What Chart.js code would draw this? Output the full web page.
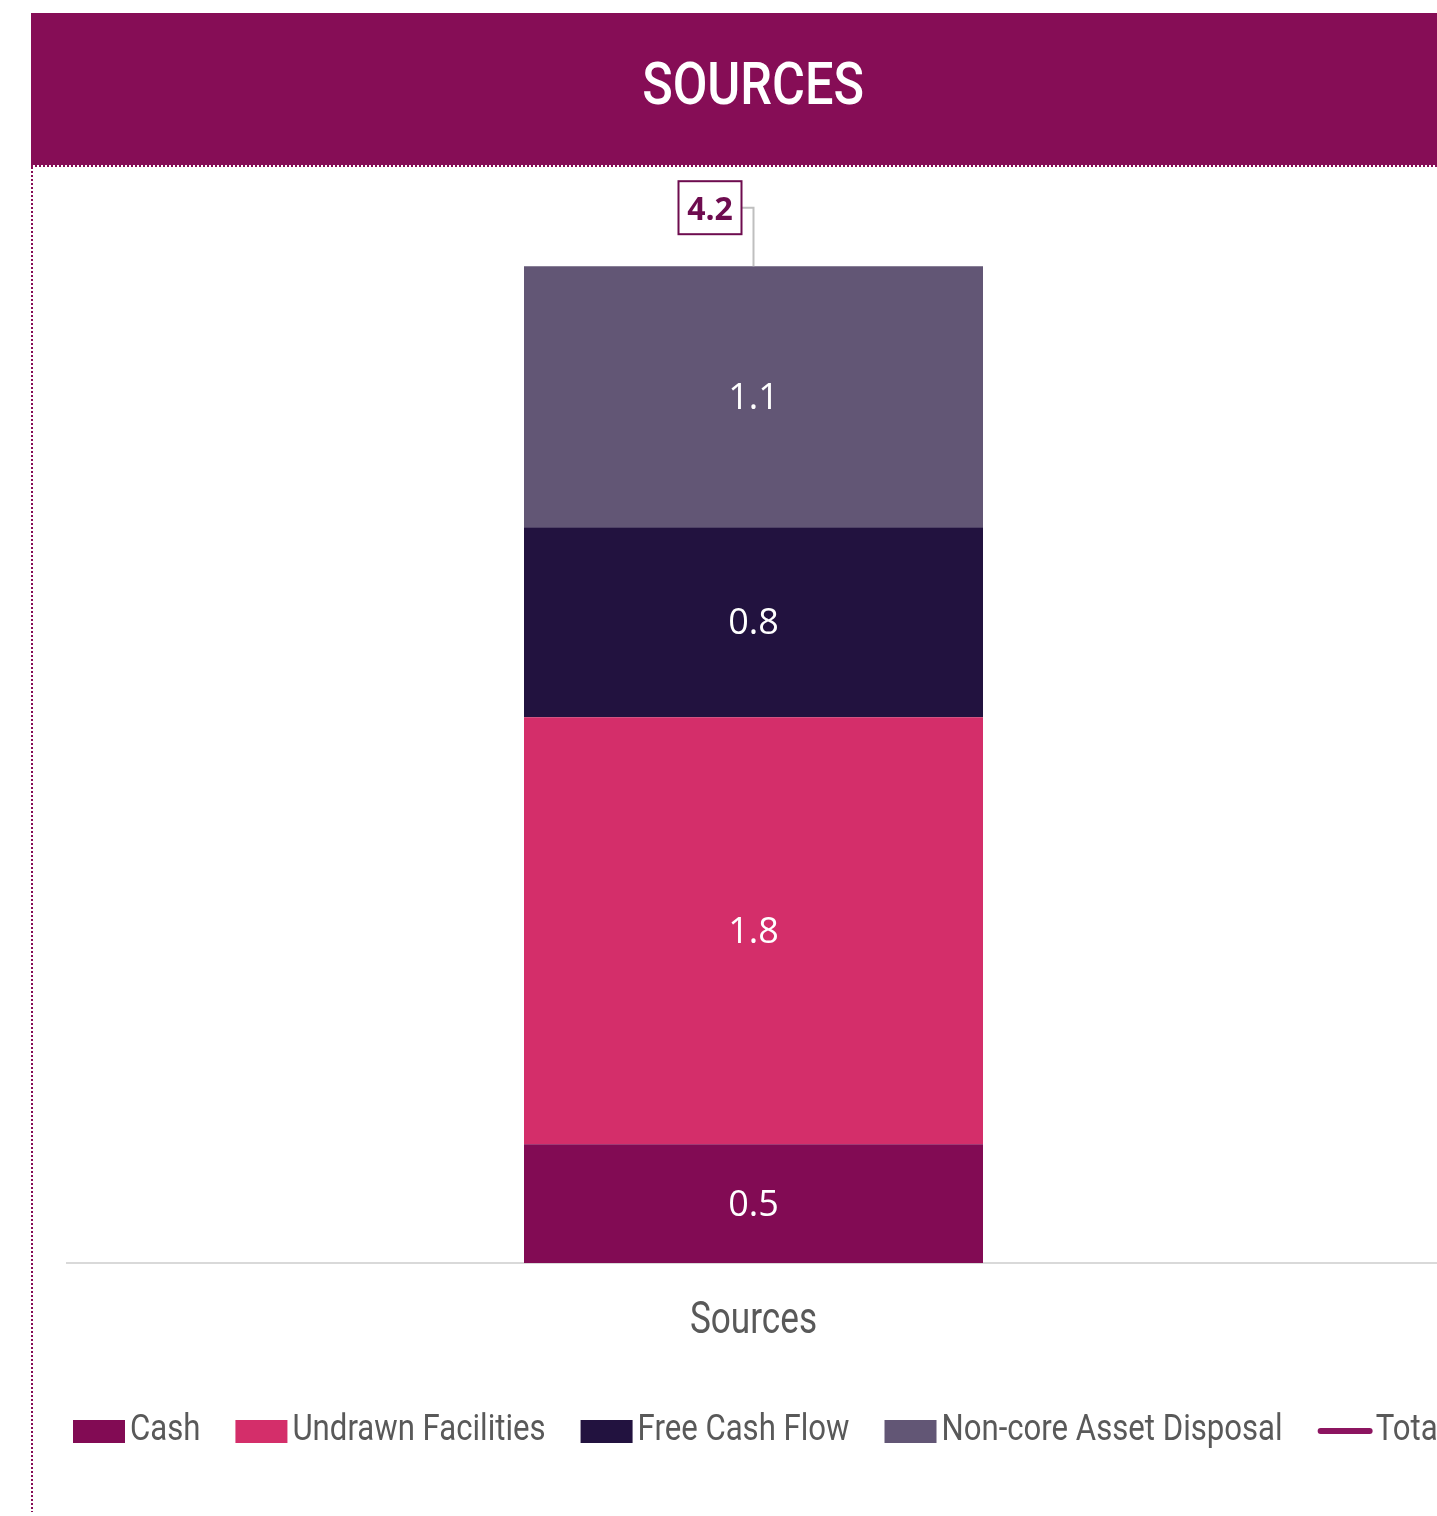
<!DOCTYPE html>
<html>
<head>
<meta charset="utf-8">
<script src="https://cdn.jsdelivr.net/npm/chart.js@4.4.1/dist/chart.umd.min.js"></script>
<style>
  html, body { margin: 0; padding: 0; background: #fff; overflow: hidden; }
  body { width: 1437px; height: 1516px; position: relative; }
  .header {
    position: absolute; left: 31px; top: 13px; width: 1444px; height: 152px;
    background: #860D56;
    color: #fff; text-align: center;
    font-family: Roboto, "Open Sans", sans-serif;
    font-weight: 500; font-size: 60px; line-height: 142px;
  }
  .header span { display: inline-block; transform: scaleX(0.84); }
  .dots-h {
    position: absolute; left: 31px; top: 165px; width: 1444px; height: 2px;
    background: repeating-linear-gradient(to right, #860D56 0 2px, transparent 2px 4px);
  }
  .dots-v {
    position: absolute; left: 31px; top: 167px; width: 2px; height: 1345px;
    background: repeating-linear-gradient(to bottom, #860D56 0 2px, transparent 2px 4px);
  }
  #chart { position: absolute; left: 31px; top: 166px; }
</style>
</head>
<body>
<div class="header"><span>SOURCES</span></div>
<canvas id="chart" width="1500" height="1350"></canvas>
<div class="dots-h"></div>
<div class="dots-v"></div>
<script>
// chart data
var categories = ["Sources"];
var cash = [0.5];
var undrawn = [1.8];
var freeCashFlow = [0.8];
var nonCore = [1.1];
var total = [4.2];

var FONT = 'Roboto, "Open Sans", sans-serif';
var LABEL_FONT = '"Open Sans", "Liberation Sans", sans-serif';
var SQUEEZE = 0.865; // the original uses a narrow typeface

function narrowText(ctx, text, x, y, sx) {
  ctx.save();
  ctx.translate(x, y);
  ctx.scale(sx, 1);
  ctx.fillText(text, 0, 0);
  ctx.restore();
  return ctx.measureText(text).width * sx;
}

// white value labels in each segment + boxed total with leader line
var valueLabels = {
  id: "valueLabels",
  afterDatasetsDraw: function (chart) {
    var ctx = chart.ctx;
    ctx.save();
    chart.data.datasets.forEach(function (ds, i) {
      var meta = chart.getDatasetMeta(i);
      if (meta.type !== "bar") return;
      meta.data.forEach(function (bar, j) {
        ctx.fillStyle = "#ffffff";
        ctx.font = "36px " + LABEL_FONT;
        ctx.textAlign = "center";
        ctx.textBaseline = "middle";
        ctx.fillText(ds.data[j].toFixed(1), bar.x, (bar.y + bar.base) / 2 + 2);
      });
    });

    // total callout
    var tMeta = chart.getDatasetMeta(4);
    tMeta.data.forEach(function (pt, j) {
      var bx = pt.x - 75, by = pt.y - 85, bw = 63, bh = 53;
      ctx.strokeStyle = "#BFBFBF";
      ctx.lineWidth = 2;
      ctx.beginPath();
      ctx.moveTo(bx + bw, by + bh / 2);
      ctx.lineTo(pt.x, by + bh / 2);
      ctx.lineTo(pt.x, pt.y);
      ctx.stroke();
      ctx.fillStyle = "#ffffff";
      ctx.fillRect(bx, by, bw, bh);
      ctx.strokeStyle = "#6E0C4F";
      ctx.lineWidth = 2;
      ctx.strokeRect(bx, by, bw, bh);
      ctx.fillStyle = "#6E0C4F";
      ctx.font = "bold 32px " + LABEL_FONT;
      ctx.textAlign = "center";
      ctx.textBaseline = "middle";
      ctx.fillText(total[j].toFixed(1), bx + bw / 2, by + bh / 2 + 3);
    });
    ctx.restore();
  }
};

// category label under the axis and the legend row
var axisAndLegend = {
  id: "axisAndLegend",
  afterDraw: function (chart) {
    var ctx = chart.ctx;
    var xScale = chart.scales.x;
    ctx.save();
    ctx.fillStyle = "#595959";
    ctx.textBaseline = "middle";
    ctx.font = "44px " + FONT;
    categories.forEach(function (c, i) {
      var w = ctx.measureText(c).width * 0.8;
      narrowText(ctx, c, xScale.getPixelForValue(i) - w / 2, chart.chartArea.bottom + 59, 0.8);
    });

    var x = chart.chartArea.left + 6;
    var y = chart.chartArea.bottom + 168;
    ctx.font = "36px " + FONT;
    ctx.textAlign = "left";
    chart.data.datasets.forEach(function (ds) {
      if (ds.type === "line") {
        ctx.strokeStyle = ds.borderColor;
        ctx.lineWidth = 6;
        ctx.lineCap = "round";
        ctx.beginPath();
        ctx.moveTo(x + 3, y);
        ctx.lineTo(x + 52, y);
        ctx.stroke();
        x += 58;
      } else {
        ctx.fillStyle = ds.backgroundColor;
        ctx.fillRect(x, y - 11, 52, 23);
        x += 57;
      }
      ctx.fillStyle = "#595959";
      x += narrowText(ctx, ds.label, x, y, SQUEEZE) + 35;
    });
    ctx.restore();
  }
};

new Chart(document.getElementById("chart"), {
  type: "bar",
  data: {
    labels: categories,
    datasets: [
      { label: "Cash", data: cash, backgroundColor: "#820B54", stack: "s" },
      { label: "Undrawn Facilities", data: undrawn, backgroundColor: "#D42E6A", stack: "s" },
      { label: "Free Cash Flow", data: freeCashFlow, backgroundColor: "#22123F", stack: "s" },
      { label: "Non-core Asset Disposal", data: nonCore, backgroundColor: "#625675", stack: "s" },
      {
        type: "line", label: "Total", data: total, stack: "t",
        borderColor: "#8C1560", backgroundColor: "#8C1560",
        pointRadius: 0, borderWidth: 4
      }
    ]
  },
  options: {
    responsive: false,
    animation: false,
    layout: { padding: { left: 36, right: 91, top: 29, bottom: 253 } },
    datasets: { bar: { categoryPercentage: 1, barPercentage: 0.3343 } },
    plugins: { legend: { display: false }, tooltip: { enabled: false } },
    scales: {
      x: {
        stacked: true,
        grid: { display: false, drawTicks: false },
        border: { display: true, color: "#D9D9D9", width: 2 },
        ticks: { display: false }
      },
      y: { stacked: true, display: false, min: 0, max: 4.5 }
    }
  },
  plugins: [valueLabels, axisAndLegend]
});
</script>
</body>
</html>
